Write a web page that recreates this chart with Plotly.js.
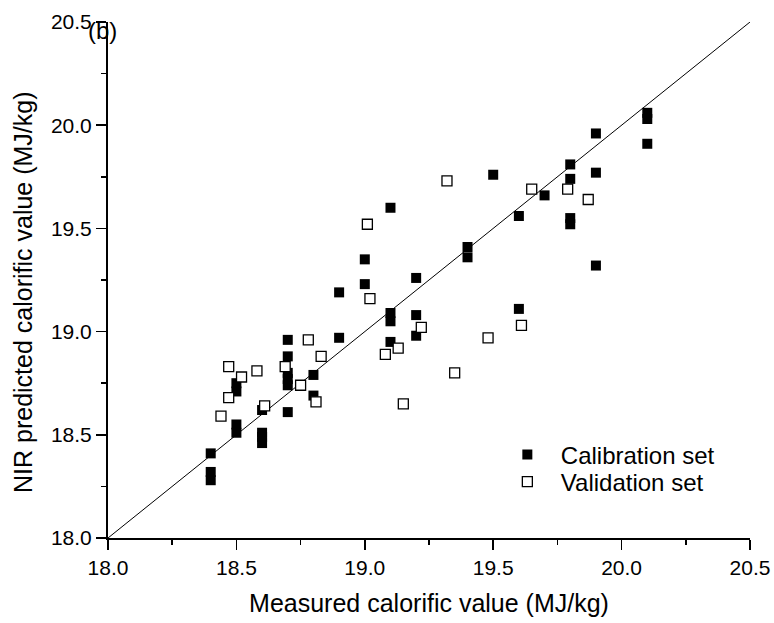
<!DOCTYPE html>
<html>
<head>
<meta charset="utf-8">
<script src="https://cdn.plot.ly/plotly-3.0.1.min.js"></script>
<style>html,body{margin:0;padding:0;background:#fff;}#chart{width:774px;height:623px;}</style>
</head>
<body>
<div id="chart"></div>
<script>
// Calibration set
const calX = [18.4,18.4,18.4, 18.5,18.5,18.5,18.5, 18.6,18.6,18.6,18.6, 18.7,18.7,18.7,18.7,18.7,18.7, 18.8,18.8, 18.9,18.9, 19.0,19.0, 19.1,19.1,19.1,19.1, 19.2,19.2,19.2, 19.4,19.4, 19.5, 19.6,19.6, 19.7, 19.8,19.8,19.8,19.8, 19.9,19.9,19.9, 20.1,20.1,20.1];
const calY = [18.41,18.32,18.28, 18.75,18.71,18.55,18.51, 18.62,18.51,18.49,18.46, 18.96,18.88,18.80,18.77,18.74,18.61, 18.79,18.69, 19.19,18.97, 19.35,19.23, 19.60,19.09,19.05,18.95, 19.26,19.08,18.98, 19.41,19.36, 19.76, 19.56,19.11, 19.66, 19.81,19.74,19.55,19.52, 19.96,19.77,19.32, 20.06,20.03,19.91];
// Validation set
const valX = [19.65,19.79,19.87,19.61,19.48,19.32,19.01,19.02,19.22,19.13,19.08,19.35,19.15,18.78,18.83,18.58,18.69,18.75,18.81,18.61,18.47,18.52,18.47,18.44];
const valY = [19.69,19.69,19.64,19.03,18.97,19.73,19.52,19.16,19.02,18.92,18.89,18.80,18.65,18.96,18.88,18.81,18.83,18.74,18.66,18.64,18.83,18.78,18.68,18.59];
// 1:1 reference line
const lineX = [18.0, 20.5];
const lineY = [18.0, 20.5];
const tickVals = [18.0, 18.5, 19.0, 19.5, 20.0, 20.5];
const tickText = ['18.0','18.5','19.0','19.5','20.0','20.5'];

const FONT = 'Liberation Sans, Arial, Helvetica, sans-serif';

const traces = [
  {x: lineX, y: lineY, mode: 'lines', line: {color: '#000', width: 1}, showlegend: false, hoverinfo: 'skip'},
  {x: calX, y: calY, mode: 'markers', name: 'Calibration set', legend: 'legend',
   marker: {symbol: 'square', size: 10, color: '#000', line: {width: 0}}},
  {x: valX, y: valY, mode: 'markers', name: 'Validation set', legend: 'legend2',
   marker: {symbol: 'square', size: 10, color: '#fff', line: {color: '#000', width: 1.3}}}
];

const axisCommon = {
  range: [18, 20.5], tickvals: tickVals, ticktext: tickText,
  showline: true, linecolor: '#000', linewidth: 2, mirror: false,
  ticks: 'outside', ticklen: 10, tickwidth: 1.5, tickcolor: '#000',
  showgrid: false, zeroline: false, automargin: false,
  tickfont: {family: FONT, size: 21, color: '#000'},
  minor: {ticks: 'outside', ticklen: 5, tickwidth: 1.5, tickcolor: '#000', dtick: 0.25, tick0: 18, showgrid: false}
};

const legendCommon = {xanchor: 'left', yanchor: 'middle', bgcolor: 'rgba(0,0,0,0)', itemwidth: 57,
  font: {family: FONT, size: 24, color: '#000'}};

const layout = {
  width: 774, height: 623,
  margin: {l: 108, r: 24, t: 22, b: 85},
  paper_bgcolor: '#fff', plot_bgcolor: '#fff',
  font: {family: FONT, color: '#000'},
  xaxis: Object.assign({}, axisCommon, {
    title: {text: 'Measured calorific value (MJ/kg)', font: {family: FONT, size: 25, color: '#000'}, standoff: 16}
  }),
  yaxis: Object.assign({}, axisCommon, {
    title: {text: ''}
  }),
  legend: Object.assign({}, legendCommon, {x: 0.601, y: (538 - 455) / 516}),
  legend2: Object.assign({}, legendCommon, {x: 0.601, y: (538 - 482) / 516}),
  annotations: [
    {text: '(b)', xref: 'paper', yref: 'paper', x: -0.008, y: 0.984, xanchor: 'center', yanchor: 'middle',
     showarrow: false, font: {family: FONT, size: 24, color: '#000'}},
    {text: 'NIR predicted calorific value (MJ/kg)', xref: 'paper', yref: 'paper', x: (23 - 108) / 642, y: (538 - 292) / 516,
     xanchor: 'center', yanchor: 'middle', textangle: -90, showarrow: false,
     font: {family: FONT, size: 25, color: '#000'}}
  ]
};

Plotly.newPlot('chart', traces, layout, {staticPlot: true, displayModeBar: false});
</script>
</body>
</html>
